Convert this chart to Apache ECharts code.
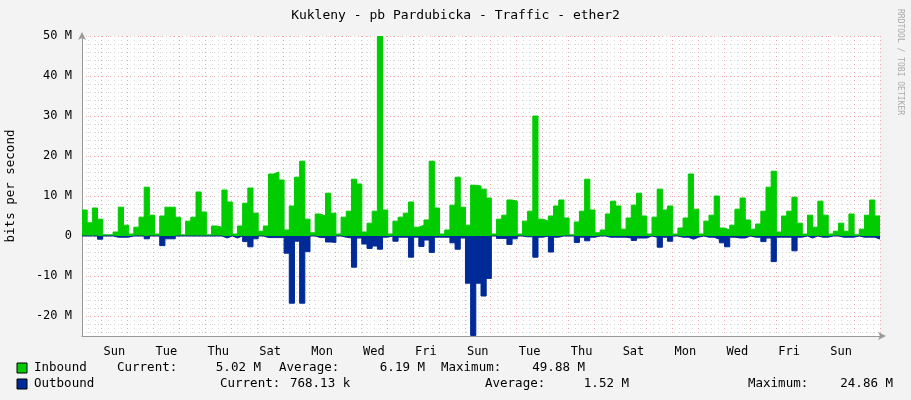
<!DOCTYPE html>
<html><head><meta charset="utf-8">
<script src="https://cdn.jsdelivr.net/npm/echarts@6/dist/echarts.min.js"></script>
<style>html,body{margin:0;padding:0;background:#f3f3f3}#c{width:911px;height:400px}</style>
</head><body><div id="c"></div>
<script>
const dayNames = ['Sun','Mon','Tue','Wed','Thu','Fri','Sat'];
const yTickLabels = ['-20 M','-10 M','0','10 M','20 M','30 M','40 M','50 M'];
const inbound = [6.5,3.3,7,4.2,0.3,0.3,1,7.2,2.7,0.5,2.2,4.7,12.2,5.2,0.5,5,7.2,7.2,4.7,0.3,3.7,4.7,11,6,0.3,2.5,2.2,11.5,8.5,0.5,2.5,8.2,12,5.7,1.2,2.5,15.5,16,14,1.5,7.5,14.7,18.7,4.2,0.8,5.5,5,10.7,5.7,0.5,4.7,6.2,14.2,13,
1,3.2,6.2,49.88,6.5,0.5,3.7,4.7,5.7,8.5,2.2,2.7,4,18.7,7,0.5,1.5,7.7,14.7,7.2,2.7,12.7,12.5,11.7,9.5,0.5,4.2,5.2,9,8.7,0.5,3.7,6.2,30,4.2,3.7,5,7.5,9,4.5,0.3,3.5,6.2,14.2,6.5,0.8,1.5,5.5,8.7,7.5,
1.7,4.5,7.7,10.7,5,0.5,4.7,11.7,6.5,7.5,0.5,2,4.5,15.5,6.7,0.5,3.7,5.2,10,2,1.5,2.7,6.7,9.5,4,1.7,3,6.2,12.2,16.2,1,5,6.2,9.7,3.2,0.5,5.2,2.2,8.7,5.2,0.5,1.2,3.2,1.2,5.5,0.3,1.7,5.2,9,5.02];
const outbound = [0,0,0,-0.8,0,0,-0.3,-0.3,-0.3,0,0,0,-0.7,0,0,-2.4,-0.7,-0.7,0,0,0,0,0,0,0,0,0,-0.5,0,-0.5,0,-1.4,-2.7,-0.7,0,-0.4,-0.4,-0.4,-0.4,-4.3,-16.8,-1.3,-16.8,-3.9,0,-0.4,-0.4,-1.5,-1.6,0,-0.3,-0.5,-7.8,-0.5,
-2,-3.1,-2.5,-3.3,-0.3,0,-1.3,-0.3,-0.3,-5.3,-0.3,-2.6,-1,-4.1,-0.3,-0.3,-0.3,-1.7,-3.3,-0.5,-11.8,-24.86,-11.8,-15,-10.6,0,-0.6,-0.6,-2.1,-0.7,0,-0.2,-0.2,-5.3,-0.3,0,-4,-0.3,0,0,0,-1.6,-0.3,-1.2,-0.3,0,0,-0.3,-0.3,-0.3,
-0.3,-0.5,-1.1,-0.5,-0.5,0,-0.3,-2.8,-0.3,-1.3,0,-0.3,-0.3,-0.8,-0.3,0,-0.3,-0.3,-0.8,-1.7,-2.7,-0.3,-0.5,-0.5,0,-0.3,-0.3,-1.4,-0.5,-6.4,-0.3,-0.3,-0.3,-3.7,-0.3,0,-0.5,0,-0.3,-0.3,0,0,-0.3,-0.3,-0.3,0,-0.3,-0.3,-0.3,-0.77];

const X0 = -18, X1 = 720;
const w = (X1 - X0) / inbound.length;
function pts(arr){const p=arr.map((v,i)=>[X0+i*w,v]);p.push([X1,arr[arr.length-1]]);return p;}

const mono = 'DejaVu Sans Mono';
const txt = (x,y,s,align) => ({type:'text',x:x,y:y,style:{text:s,font:'12.5px "DejaVu Sans Mono"',fill:'#000',textAlign:align||'left',textVerticalAlign:'middle'}});
const G='#d8d8d8', R='#f2a6a6', T='rgba(0,0,0,0)';

const chart = echarts.init(document.getElementById('c'));
chart.setOption({
  backgroundColor:'#f3f3f3',
  animation:false,
  grid:{left:82,right:31,top:36,bottom:64,outerBoundsMode:'none',containLabel:false,backgroundColor:'#fff',show:true,borderWidth:0},
  title:{text:'Kukleny - pb Pardubicka - Traffic - ether2',left:'center',top:4,
    textStyle:{fontFamily:mono,fontSize:13,fontWeight:'normal',color:'#000'}},
  xAxis:{type:'value',min:X0,max:X1,interval:6,
    axisLine:{onZero:false,lineStyle:{color:'#999'},symbol:['none','arrow'],symbolSize:[6,8],symbolOffset:[0,6]},
    axisTick:{show:false},
    splitLine:{show:true,lineStyle:{type:[1,3],color:[G,G,G,R]}},
    axisLabel:{fontFamily:mono,fontSize:12,color:'#000',margin:10,
      formatter:v=>{const d=v-12; if(d>=0 && d%48===0) return dayNames[(d/24)%7]; return '';}}},
  yAxis:{type:'value',min:-25,max:50,interval:1,
    name:'bits per second',nameLocation:'middle',nameGap:65,nameRotate:90,
    nameTextStyle:{fontFamily:mono,fontSize:12.5,color:'#000'},
    axisLine:{show:true,onZero:false,lineStyle:{color:'#999'},symbol:['none','arrow'],symbolSize:[6,8],symbolOffset:[0,4]},
    axisTick:{show:false},
    splitLine:{show:true,lineStyle:{type:[1,3],color:[T,G,T,G,T,R,T,G,T,G]}},
    axisLabel:{fontFamily:mono,fontSize:12,color:'#000',margin:10,
      formatter:v=>{if(v%10!==0) return ''; return yTickLabels[(v+20)/10];}}},
  series:[
    {type:'line',data:pts(inbound),step:'end',symbol:'none',lineStyle:{width:1,color:'#00CC00'},
     areaStyle:{color:'#00CC00',opacity:1}},
    {type:'line',data:pts(outbound),step:'end',symbol:'none',lineStyle:{width:1,color:'#002A97'},
     areaStyle:{color:'#002A97',opacity:1}}
  ],
  graphic:[
    {type:'rect',shape:{x:17,y:363,width:10,height:10},style:{fill:'#00CC00',stroke:'#000',lineWidth:1}},
    {type:'rect',shape:{x:17,y:379,width:10,height:10},style:{fill:'#002A97',stroke:'#000',lineWidth:1}},
    txt(34,368,'Inbound'),txt(117,368,'Current:'),txt(261,368,'5.02 M','right'),
    txt(279,368,'Average:'),txt(425,368,'6.19 M','right'),txt(441,368,'Maximum:'),txt(585,368,'49.88 M','right'),
    txt(34,384,'Outbound'),txt(220,384,'Current:'),txt(290,384,'768.13 k'),
    txt(485,384,'Average:'),txt(629,384,'1.52 M','right'),txt(748,384,'Maximum:'),txt(893,384,'24.86 M','right'),
    {type:'text',x:900,y:62,rotation:-Math.PI/2,style:{text:'RRDTOOL / TOBI OETIKER',font:'8px "DejaVu Sans Mono"',fill:'#aaa',textAlign:'center',textVerticalAlign:'middle'}}
  ]
});
</script></body></html>
